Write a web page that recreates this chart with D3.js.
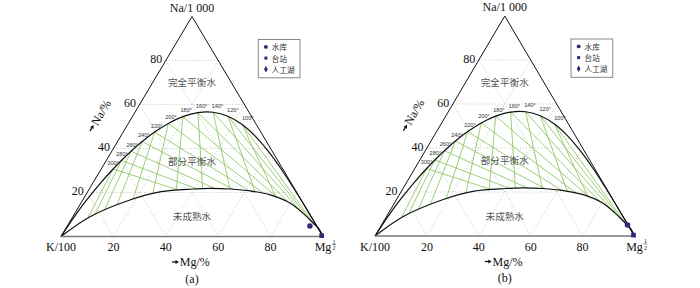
<!DOCTYPE html>
<html><head><meta charset="utf-8">
<script src="https://cdn.jsdelivr.net/npm/d3@7"></script>
<style>body{margin:0;background:#fff}svg{display:block}</style>
</head><body><svg id="c" width="700" height="288"></svg>
<script>
// ---- data ----
const ticks = [20, 40, 60, 80];
const tempLabels = [300, 280, 260, 240, 220, 200, 180, 160, 140, 120, 100];
const eqNa = [30.67, 34.56, 38.76, 43.15, 47.47, 51.40, 54.49, 56.32, 56.47, 54.68, 50.89];
const eqMg = [4.56, 5.78, 7.37, 9.40, 12.00, 15.25, 19.28, 24.11, 29.81, 36.36, 43.72];
// full equilibrium curve (K corner -> Mg corner)
const upperNa = [0, 9.98, 16.85, 24.04, 30.67, 34.56, 38.76, 43.15, 47.47, 51.40, 54.49, 56.32, 56.47, 54.68, 50.89, 45.31, 38.32, 30.57, 22.73, 15.58, 0];
const upperMg = [0, 0.64, 1.54, 2.89, 4.56, 5.78, 7.37, 9.40, 12.00, 15.25, 19.28, 24.11, 29.81, 36.36, 43.72, 51.74, 60.23, 68.81, 77.04, 84.35, 100];
// immature water boundary (K corner -> Mg corner)
const lowerNa = [0, 9.0, 16.6, 20.4, 21.6, 21.9, 21.6, 20.7, 18.9, 15.1, 10.5, 6.0, 3.5, 0];
const lowerMg = [0, 6.6, 18.0, 28.0, 39.5, 46.0, 54.0, 62.0, 70.5, 80.0, 87.2, 93.3, 96.7, 100];
const regionNames = ['完全平衡水', '部分平衡水', '未成熟水'];
const regionNa = [70.2, 34.5, 9.3];
const legendNames = ['水库', '台站', '人工湖'];
// samples
const sampleTypeA = ['水库', '台站'];
const sampleNaA = [4.8, 0.4];
const sampleMgA = [92.6, 99.3];
const sampleTypeB = ['水库', '台站'];
const sampleNaB = [5.0, 0.4];
const sampleMgB = [94.8, 99.4];

const shapes = {'水库': d3.symbolCircle, '台站': d3.symbolSquare, '人工湖': d3.symbolDiamond};
const markColor = '#2b2a78';
const serif = '"Liberation Serif","Times New Roman",serif';
const cjk = '"Noto Sans CJK SC",sans-serif';

const svg = d3.select('#c');

function arrowTitle(g, label) {
  g.append('path').attr('d', 'M-20,0 L-15.5,0').attr('stroke', '#111').attr('stroke-width', 1.3);
  g.append('path').attr('d', 'M-16.5,-2 L-13,0 L-16.5,2 Z').attr('fill', '#111');
  g.append('text').attr('x', -12.2).attr('y', 4).attr('font-family', serif)
    .attr('font-size', 12).attr('fill', '#111').text(label);
}

function drawPanel(L, sType, sNa, sMg) {
  const g = svg.append('g');
  const xs = d3.scaleLinear().domain([0, 100]).range([L.k, L.m]);
  const ys = d3.scaleLinear().domain([0, 100]).range([L.base, L.apex]);
  const P = (na, mg) => [xs(mg + na / 2), ys(na)];
  const K = P(0, 0), M = P(0, 100), N = P(100, 0);

  // dotted grid
  const grid = g.append('g').attr('stroke', '#b8b8b8').attr('stroke-width', 0.8)
    .attr('stroke-dasharray', '1,2').attr('fill', 'none');
  ticks.forEach(v => {
    const segs = [[P(v, 0), P(v, 100 - v)], [P(0, v), P(100 - v, v)], [P(0, 100 - v), P(100 - v, 0)]];
    segs.forEach(s => grid.append('line').attr('x1', s[0][0]).attr('y1', s[0][1]).attr('x2', s[1][0]).attr('y2', s[1][1]));
  });

  const line = d3.line().curve(d3.curveCatmullRom.alpha(0.5));
  const lowerPts = lowerNa.map((n, i) => P(n, lowerMg[i]));
  const upperPts = upperNa.map((n, i) => P(n, upperMg[i]));

  const greenG = g.append('g');
  const lowerPath = g.append('path').attr('d', line(lowerPts)).attr('fill', 'none')
    .attr('stroke', '#111').attr('stroke-width', 1.2);
  g.append('path').attr('d', line(upperPts)).attr('fill', 'none')
    .attr('stroke', '#111').attr('stroke-width', 1.2);

  const node = lowerPath.node(), len = node.getTotalLength();
  const dense = d3.range(0, 601).map(i => { const p = node.getPointAtLength(len * i / 600); return [p.x, p.y]; });
  function hit(p, d) {
    let best = Infinity;
    for (let i = 0; i < dense.length - 1; i++) {
      const a = dense[i], b = dense[i + 1];
      const ex = b[0] - a[0], ey = b[1] - a[1];
      const den = d[0] * ey - d[1] * ex;
      if (Math.abs(den) < 1e-12) continue;
      const wx = a[0] - p[0], wy = a[1] - p[1];
      const t = (wx * ey - wy * ex) / den;
      const s = (wx * d[1] - wy * d[0]) / den;
      if (t > 1e-6 && s >= 0 && s <= 1 && t < best) best = t;
    }
    return best === Infinity ? null : [p[0] + best * d[0], p[1] + best * d[1]];
  }
  tempLabels.forEach((t, i) => {
    const p = P(eqNa[i], eqMg[i]);
    const dirs = [[M[0] - p[0], M[1] - p[1]], [p[0] - N[0], p[1] - N[1]]];
    dirs.forEach(d => {
      const q = hit(p, d);
      if (q) greenG.append('line').attr('x1', p[0]).attr('y1', p[1]).attr('x2', q[0]).attr('y2', q[1])
        .attr('stroke', '#84c256').attr('stroke-width', 0.8);
    });
    g.append('text').attr('x', p[0] + i * 0.55).attr('y', p[1] - 6.5)
      .attr('text-anchor', 'middle').attr('dominant-baseline', 'central')
      .attr('font-family', 'Arial, "Liberation Sans", sans-serif').attr('font-size', 5.6)
      .attr('fill', '#333').text(t + '°');
  });

  // triangle edges
  g.append('path').attr('d', `M${K}L${N}L${M}`).attr('fill', 'none').attr('stroke', '#111').attr('stroke-width', 1);
  g.append('line').attr('x1', K[0]).attr('y1', K[1]).attr('x2', M[0]).attr('y2', M[1])
    .attr('stroke', '#7a7a7a').attr('stroke-width', 1.6);

  // tick labels
  ticks.forEach(v => {
    const a = P(v, 0);
    g.append('text').attr('x', a[0] - 3.5).attr('y', a[1] + 2.8).attr('text-anchor', 'end')
      .attr('font-family', serif).attr('font-size', 12).attr('fill', '#111').text(v);
    const b = P(0, v);
    g.append('text').attr('x', b[0]).attr('y', b[1] + 14.5).attr('text-anchor', 'middle')
      .attr('font-family', serif).attr('font-size', 12).attr('fill', '#111').text(v);
  });
  g.append('text').attr('x', K[0]).attr('y', K[1] + 14.5).attr('text-anchor', 'middle')
    .attr('font-family', serif).attr('font-size', 12).attr('fill', '#111').text('K/100');
  g.append('text').attr('x', M[0]).attr('y', M[1] + 14.5).attr('text-anchor', 'middle')
    .attr('font-family', serif).attr('font-size', 12).attr('fill', '#111').text('Mg');
  g.append('text').attr('x', M[0] + 11).attr('y', M[1] + 7).attr('text-anchor', 'middle')
    .attr('font-family', serif).attr('font-size', 6).attr('fill', '#111').text('1');
  g.append('line').attr('x1', M[0] + 9).attr('x2', M[0] + 13).attr('y1', M[1] + 8).attr('y2', M[1] + 8)
    .attr('stroke', '#111').attr('stroke-width', 0.5);
  g.append('text').attr('x', M[0] + 11).attr('y', M[1] + 13.5).attr('text-anchor', 'middle')
    .attr('font-family', serif).attr('font-size', 6).attr('fill', '#111').text('2');
  g.append('text').attr('x', N[0]).attr('y', N[1] - 5).attr('text-anchor', 'middle')
    .attr('font-family', serif).attr('font-size', 12).attr('fill', '#111').text('Na/1 000');

  // axis titles
  arrowTitle(g.append('g').attr('transform', `translate(${(K[0] + M[0]) / 2},${L.base + 25.5})`), 'Mg/%');
  const ang = Math.atan2(N[1] - K[1], N[0] - K[0]);
  const f = P(49, 0);
  const cx = f[0] - 29 * Math.sin(-ang), cy = f[1] - 29 * Math.cos(ang);
  arrowTitle(g.append('g').attr('transform', `translate(${cx},${cy}) rotate(${ang * 180 / Math.PI})`), 'Na/%');
  g.append('text').attr('x', (K[0] + M[0]) / 2).attr('y', L.base + 46).attr('text-anchor', 'middle')
    .attr('font-family', serif).attr('font-size', 12).attr('fill', '#111').text(L.tag);

  // region labels
  regionNames.forEach((r, i) => {
    const p = P(regionNa[i], 50 - regionNa[i] / 2);
    g.append('text').attr('x', p[0]).attr('y', p[1]).attr('text-anchor', 'middle')
      .attr('dominant-baseline', 'central').attr('font-family', cjk).attr('font-size', 9.6)
      .attr('fill', '#555').text(r);
  });

  // samples
  sType.forEach((t, i) => {
    const p = P(sNa[i], sMg[i]);
    g.append('path').attr('d', d3.symbol().type(shapes[t]).size(t === '台站' ? 22 : 24)())
      .attr('transform', `translate(${p[0]},${p[1]})`).attr('fill', markColor);
  });

  // legend
  const lx = N[0] + 66.3, ly = N[1] + 23;
  const lg = g.append('g').attr('transform', `translate(${lx},${ly})`);
  lg.append('rect').attr('width', 41.7).attr('height', 38.3).attr('fill', '#fff')
    .attr('stroke', '#888').attr('stroke-width', 1);
  legendNames.forEach((n, i) => {
    const y = 7.4 + i * 11.2;
    lg.append('path').attr('d', d3.symbol().type(shapes[n]).size(n === '台站' ? 9 : 12)())
      .attr('transform', `translate(7.6,${y})`).attr('fill', markColor);
    lg.append('text').attr('x', 13.5).attr('y', y).attr('dominant-baseline', 'central')
      .attr('font-family', cjk).attr('font-size', 7.6).attr('fill', '#333').text(n);
  });
}

drawPanel({k: 61, m: 323, base: 236.5, apex: 16.5, tag: '(a)'}, sampleTypeA, sampleNaA, sampleMgA);
drawPanel({k: 375, m: 634.5, base: 236, apex: 16, tag: '(b)'}, sampleTypeB, sampleNaB, sampleMgB);
</script></body></html>
